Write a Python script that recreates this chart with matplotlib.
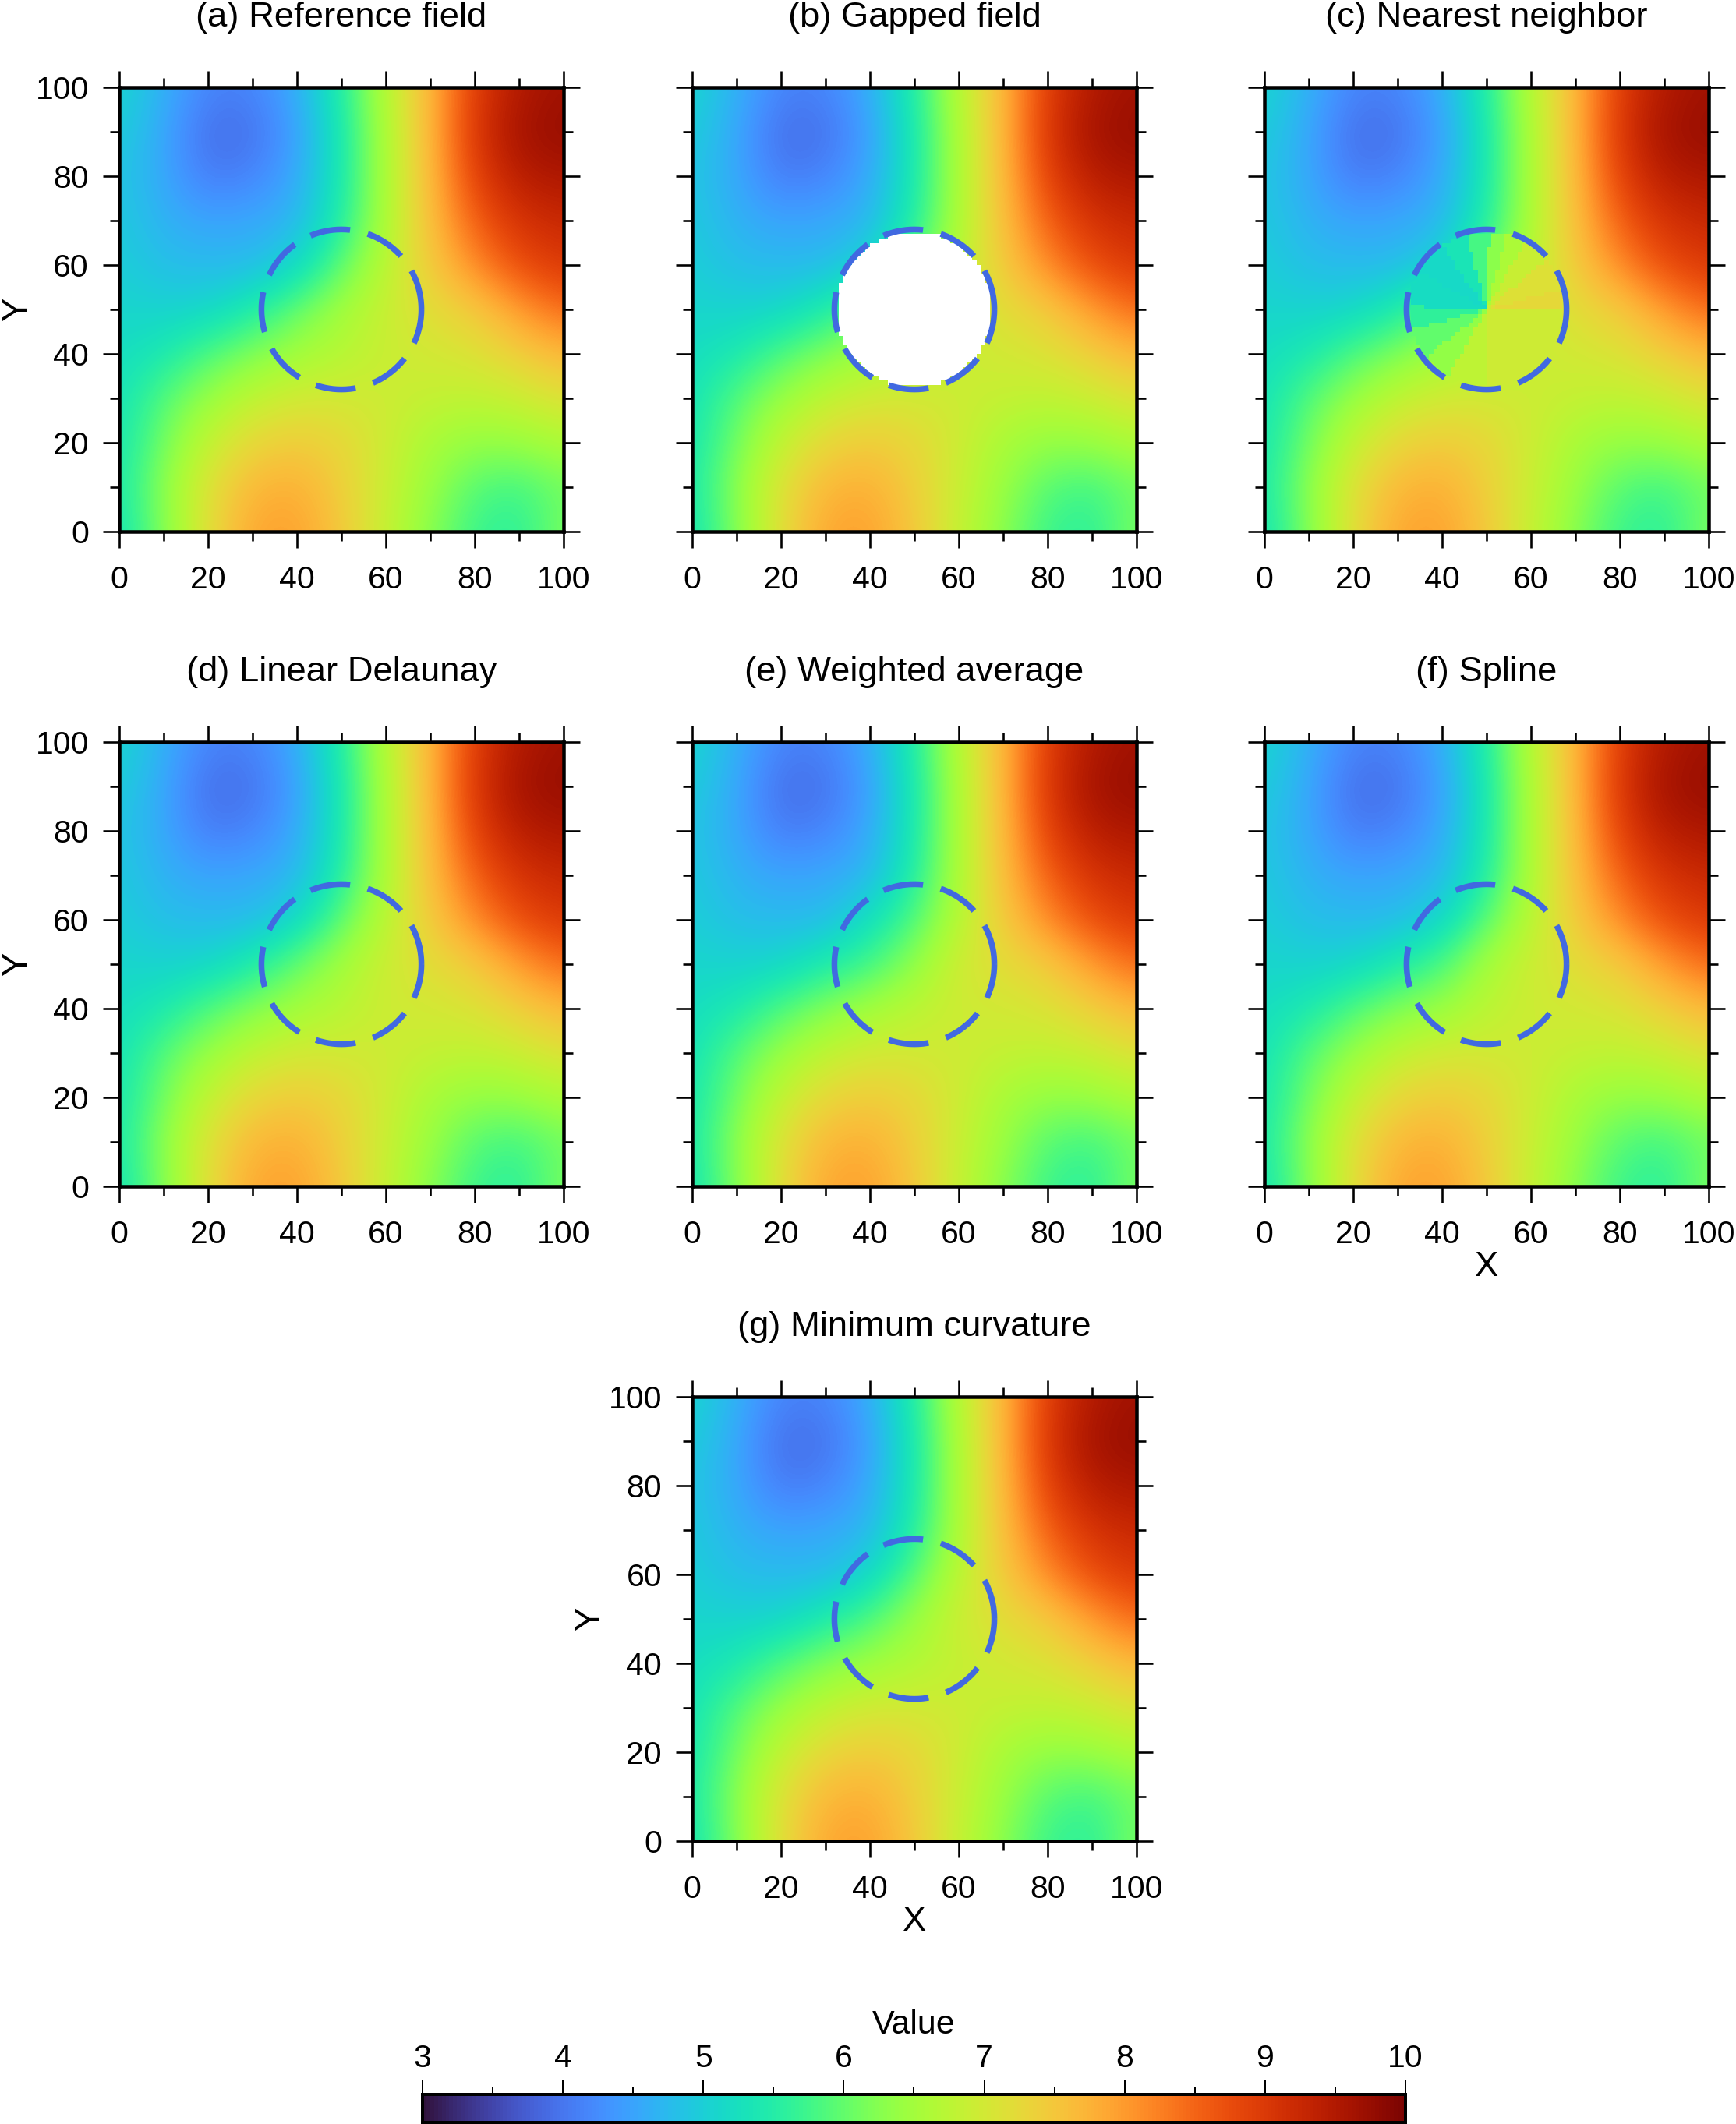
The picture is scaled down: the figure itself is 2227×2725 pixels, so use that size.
import numpy as np
import matplotlib
matplotlib.use("Agg")
from matplotlib import pyplot as plt
from matplotlib.cm import ScalarMappable
from matplotlib.colors import Normalize
from matplotlib.ticker import MultipleLocator

plt.rcParams["font.family"] = ["Liberation Sans", "DejaVu Sans"]

FIG_W, FIG_H = 2227, 2725
DPI = 100
PX = 72.0 / DPI  # points per pixel

VMIN, VMAX = 3, 10
GRID_STEP = 10
GAP_CENTER = 50
GAP_RADIUS = 18

# values read at x = 0, 10, ... 100, first row is y = 100, last is y = 0
FIELD_ROW_Y100 = [5.1, 4.65, 4.15, 4.15, 4.6, 5.5, 6.7, 7.7, 8.95, 9.5, 9.65]
FIELD_ROW_Y90 = [5.0, 4.55, 3.9, 3.95, 4.45, 5.4, 6.6, 7.7, 9.05, 9.65, 9.75]
FIELD_ROW_Y80 = [4.9, 4.55, 4.05, 4.15, 4.55, 5.4, 6.6, 7.65, 8.9, 9.45, 9.55]
FIELD_ROW_Y70 = [4.95, 4.65, 4.5, 4.55, 4.7, 5.5, 6.6, 7.6, 8.55, 9.1, 9.25]
FIELD_ROW_Y60 = [5.0, 4.8, 4.75, 4.75, 5.1, 5.95, 6.75, 7.45, 8.15, 8.75, 9.0]
FIELD_ROW_Y50 = [5.1, 5.05, 5.1, 5.45, 6.0, 6.5, 6.9, 7.2, 7.45, 8.0, 8.45]
FIELD_ROW_Y40 = [5.2, 5.4, 5.85, 6.2, 6.5, 6.7, 6.9, 7.0, 7.1, 7.4, 7.7]
FIELD_ROW_Y30 = [5.3, 5.9, 6.4, 6.8, 7.0, 7.0, 6.95, 6.85, 6.8, 6.9, 7.15]
FIELD_ROW_Y20 = [5.35, 6.1, 6.85, 7.3, 7.45, 7.3, 6.95, 6.55, 6.35, 6.4, 6.6]
FIELD_ROW_Y10 = [5.4, 6.3, 7.15, 7.7, 7.8, 7.4, 6.9, 6.4, 5.9, 5.75, 6.1]
FIELD_ROW_Y0 = [5.3, 6.2, 7.2, 7.9, 7.95, 7.5, 6.85, 6.25, 5.7, 5.55, 6.2]

# infill at x = 40, 50, 60 and y = 60, 50, 40
PATCH_DELAUNAY = [[5.1, 5.95, 6.75], [6.0, 6.5, 6.95], [6.5, 6.7, 6.95]]
PATCH_WEIGHTED = [[5.25, 5.85, 6.7], [5.75, 6.3, 7.0], [6.5, 6.75, 6.95]]
PATCH_SPLINE = [[5.1, 5.9, 6.75], [5.8, 6.55, 6.95], [6.4, 6.75, 6.95]]
PATCH_MINCURV = [[5.1, 5.9, 6.75], [5.85, 6.4, 6.95], [6.45, 6.65, 6.85]]

# nearest neighbor infill: wedge upper edges in degrees from east, wedge values
NN_EDGES = [15, 40, 60, 75, 88, 105, 125, 150, 178, 195, 218, 240, 270, 360]
NN_VALUES = [7.25, 7.15, 6.9, 6.6, 6.3, 5.8, 5.35, 5.15, 5.2, 5.6, 6.0, 6.35, 6.8, 6.95]

TITLES = ["(a) Reference field", "(b) Gapped field", "(c) Nearest neighbor",
          "(d) Linear Delaunay", "(e) Weighted average", "(f) Spline",
          "(g) Minimum curvature"]
MAJOR_TICKS = [0, 20, 40, 60, 80, 100]
BAR_TICKS = [3, 4, 5, 6, 7, 8, 9, 10]

COLUMNS = [153, 888, 1622]
ROWS = [112, 952, 1792]
PANEL_W, PANEL_H = 570, 570
BLUE = "#4169e1"


def add_axes(fig, left, top, width, height):
  return fig.add_axes([left / FIG_W, 1 - (top + height) / FIG_H,
                       width / FIG_W, height / FIG_H])


def gap_cells():
  # 1 unit cells inside the gap, same stepped edge as the source grid
  centers = np.arange(100) + 0.5
  xx, yy = np.meshgrid(centers, centers)
  dx, dy = xx - GAP_CENTER, yy - GAP_CENTER
  return np.hypot(dx, dy) <= GAP_RADIUS - 0.6, np.degrees(np.arctan2(dy, dx)) % 360


def base_field():
  return np.array([FIELD_ROW_Y100, FIELD_ROW_Y90, FIELD_ROW_Y80, FIELD_ROW_Y70,
                   FIELD_ROW_Y60, FIELD_ROW_Y50, FIELD_ROW_Y40, FIELD_ROW_Y30,
                   FIELD_ROW_Y20, FIELD_ROW_Y10, FIELD_ROW_Y0])


def draw_panel(ax, title, patch=None, show_y=False, show_x=False):
  field = base_field()
  if patch is not None:
    field[4:7, 4:7] = patch
  half = GRID_STEP / 2
  ax.imshow(field, cmap="turbo", vmin=VMIN, vmax=VMAX, interpolation="bicubic",
            extent=(-half, 100 + half, -half, 100 + half), aspect="auto")
  ax.set_xlim(0, 100)
  ax.set_ylim(0, 100)
  ax.set_xticks(MAJOR_TICKS)
  ax.set_yticks(MAJOR_TICKS)
  ax.xaxis.set_minor_locator(MultipleLocator(10))
  ax.yaxis.set_minor_locator(MultipleLocator(10))
  ax.tick_params(which="major", direction="out", length=21 * PX, width=2.6 * PX,
                 top=True, right=True, labelsize=29.5, pad=18 * PX,
                 labelleft=show_y)
  ax.tick_params(which="minor", direction="out", length=12 * PX, width=2.6 * PX,
                 top=True, right=True)
  ax.tick_params(axis="x", pad=22 * PX)
  for spine in ax.spines.values():
    spine.set_linewidth(4.5 * PX)
  ax.set_title(title, fontsize=32.7, y=1, pad=78 * PX)
  if show_y:
    ax.set_ylabel("Y", fontsize=32.7, va="center")
    ax.yaxis.set_label_coords(-0.229, 0.5)
  if show_x:
    ax.set_xlabel("X", fontsize=32.7, va="center")
    ax.xaxis.set_label_coords(0.5, -0.181)


def draw_gap_circle(ax):
  theta = np.linspace(0, 2 * np.pi, 361)
  ax.plot(GAP_CENTER + GAP_RADIUS * np.cos(theta),
          GAP_CENTER + GAP_RADIUS * np.sin(theta), color=BLUE,
          linewidth=7.5 * PX, linestyle=(0, (6.9, 3.1)),
          dash_capstyle="butt", zorder=5)


def draw_infill(ax, values):
  ax.imshow(values, cmap="turbo", vmin=VMIN, vmax=VMAX, origin="lower",
            interpolation="nearest", extent=(0, 100, 0, 100), aspect="auto",
            zorder=2)
  ax.set_xlim(0, 100)
  ax.set_ylim(0, 100)


fig = plt.figure(figsize=(FIG_W / DPI, FIG_H / DPI), dpi=DPI)

inside, angle = gap_cells()
patches = [None, None, None, PATCH_DELAUNAY, PATCH_WEIGHTED, PATCH_SPLINE, PATCH_MINCURV]
places = [(COLUMNS[c], ROWS[r]) for r in range(2) for c in range(3)] + [(COLUMNS[1], ROWS[2])]

for i, (left, top) in enumerate(places):
  ax = add_axes(fig, left, top, PANEL_W, PANEL_H)
  draw_panel(ax, TITLES[i], patches[i], show_y=left == COLUMNS[0] or i == 6,
             show_x=i >= 5)
  if i == 1:
    white = np.zeros(inside.shape + (4,))
    white[..., :3] = 1
    white[..., 3] = inside
    ax.imshow(white, origin="lower", interpolation="nearest",
              extent=(0, 100, 0, 100), aspect="auto", zorder=2)
    ax.set_xlim(0, 100)
    ax.set_ylim(0, 100)
  if i == 2:
    wedge = np.searchsorted(NN_EDGES, angle, side="right").clip(0, len(NN_VALUES) - 1)
    draw_infill(ax, np.ma.masked_where(~inside, np.array(NN_VALUES)[wedge]))
  draw_gap_circle(ax)

cax = add_axes(fig, 542, 2687, 1261, 36)
bar = fig.colorbar(ScalarMappable(Normalize(VMIN, VMAX), "turbo"), cax=cax,
                   orientation="horizontal")
bar.set_ticks(BAR_TICKS)
cax.xaxis.set_minor_locator(MultipleLocator(0.5))
cax.xaxis.set_ticks_position("top")
cax.tick_params(which="major", length=18 * PX, width=2 * PX, labelsize=29.5, pad=9 * PX)
cax.tick_params(which="minor", length=9 * PX, width=2 * PX)
bar.outline.set_linewidth(4 * PX)
cax.xaxis.set_label_position("top")
cax.set_xlabel("Value", fontsize=31, labelpad=13 * PX)

fig.savefig("out.png", dpi=DPI)
